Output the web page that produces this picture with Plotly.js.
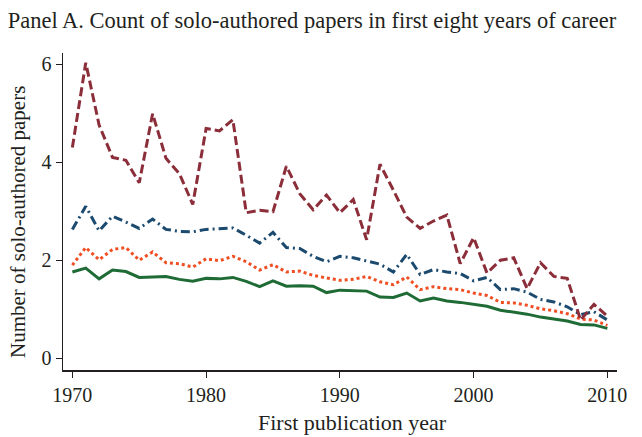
<!DOCTYPE html>
<html>
<head>
<meta charset="utf-8">
<script src="https://cdn.plot.ly/plotly-3.0.1.min.js"></script>
<style>html,body{margin:0;padding:0;background:#fff;}#chart{width:642px;height:437px;}</style>
</head>
<body>
<div id="chart"></div>
<script>
const years = [];
for (let y = 1970; y <= 2010; y++) years.push(y);

const seriesTop = [4.30, 6.03, 4.76, 4.10, 4.04, 3.58, 4.99, 4.08, 3.77, 3.14,
  4.69, 4.64, 4.87, 2.97, 3.02, 2.99, 3.92, 3.36, 3.03, 3.33,
  2.97, 3.24, 2.42, 3.96, 3.43, 2.88, 2.65, 2.80, 2.92, 1.93,
  2.46, 1.74, 2.00, 2.05, 1.42, 1.95, 1.67, 1.63, 0.78, 1.10, 0.86];

const seriesBlue = [2.63, 3.10, 2.60, 2.90, 2.78, 2.65, 2.84, 2.63, 2.59, 2.58,
  2.63, 2.65, 2.66, 2.51, 2.35, 2.57, 2.26, 2.24, 2.08, 1.97,
  2.08, 2.05, 1.99, 1.92, 1.76, 2.12, 1.71, 1.81, 1.76, 1.73,
  1.58, 1.65, 1.40, 1.42, 1.35, 1.20, 1.15, 1.05, 0.89, 0.95, 0.78];

const seriesOrange = [1.90, 2.26, 2.01, 2.22, 2.26, 2.00, 2.17, 1.95, 1.93, 1.86,
  2.03, 1.99, 2.08, 1.97, 1.80, 1.91, 1.76, 1.78, 1.69, 1.64,
  1.59, 1.61, 1.67, 1.56, 1.50, 1.66, 1.40, 1.46, 1.42, 1.40,
  1.33, 1.28, 1.14, 1.13, 1.08, 1.01, 0.97, 0.91, 0.80, 0.78, 0.67];

const seriesGreen = [1.76, 1.84, 1.62, 1.80, 1.77, 1.65, 1.66, 1.67, 1.61, 1.57,
  1.63, 1.62, 1.65, 1.57, 1.46, 1.58, 1.47, 1.48, 1.47, 1.34,
  1.39, 1.38, 1.37, 1.25, 1.24, 1.33, 1.17, 1.23, 1.17, 1.14,
  1.10, 1.06, 0.98, 0.94, 0.90, 0.84, 0.80, 0.76, 0.69, 0.68, 0.61];

const xTicks = [1970, 1980, 1990, 2000, 2010];
const yTicks = [0, 2, 4, 6];

const serif = "Liberation Serif, DejaVu Serif, serif";
const txt = '#231f20';

const traces = [
  {x: years, y: seriesGreen, mode: 'lines', line: {color: '#1f6b35', width: 3}},
  {x: years, y: seriesOrange, mode: 'lines', line: {color: '#f04e23', width: 3, dash: '3px,3px'}},
  {x: years, y: seriesBlue, mode: 'lines', line: {color: '#1b4a6e', width: 3, dash: '9px,4px,2px,4px'}},
  {x: years, y: seriesTop, mode: 'lines', line: {color: '#8b2e3a', width: 3, dash: '9px,4px'}}
];

const W = 642, H = 437;
const layout = {
  width: W, height: H,
  paper_bgcolor: '#fff', plot_bgcolor: '#fff',
  showlegend: false,
  margin: {l: 63, r: 25, t: 53, b: 67},
  font: {family: serif, color: txt, size: 20},
  title: {text: 'Panel A. Count of solo-authored papers in first eight years of career',
    x: 0.012, xanchor: 'left', y: 0.955, yanchor: 'middle',
    font: {family: serif, size: 22.5, color: txt}},
  xaxis: {
    range: [1969.3, 2010.72], tickvals: xTicks, ticktext: xTicks.map(String),
    showgrid: false, zeroline: false, showline: true, linecolor: txt, linewidth: 1.5,
    ticks: 'outside', ticklen: 6, tickcolor: txt, tickwidth: 1.2,
    tickfont: {family: serif, size: 20, color: txt}
  },
  yaxis: {
    range: [-0.24, 6.23], tickvals: yTicks, ticktext: yTicks.map(String),
    showgrid: false, zeroline: false, showline: true, linecolor: txt, linewidth: 1.5,
    ticks: 'outside', ticklen: 6, tickcolor: txt, tickwidth: 1.2,
    tickfont: {family: serif, size: 20, color: txt}
  },
  annotations: [
    {text: 'First publication year', xref: 'paper', yref: 'paper',
     x: (352 - 63) / (W - 63 - 25), y: -(422 - 370) / (370 - 53), xanchor: 'center', yanchor: 'middle',
     showarrow: false, font: {family: serif, size: 22, color: txt}},
    {text: 'Number of solo-authored papers', xref: 'paper', yref: 'paper', textangle: -90,
     x: -(63 - 18) / (W - 63 - 25), y: (370 - 222) / (370 - 53), xanchor: 'center', yanchor: 'middle',
     showarrow: false, font: {family: serif, size: 21, color: txt}}
  ]
};

Plotly.newPlot('chart', traces, layout, {displayModeBar: false, staticPlot: true});
</script>
</body>
</html>
